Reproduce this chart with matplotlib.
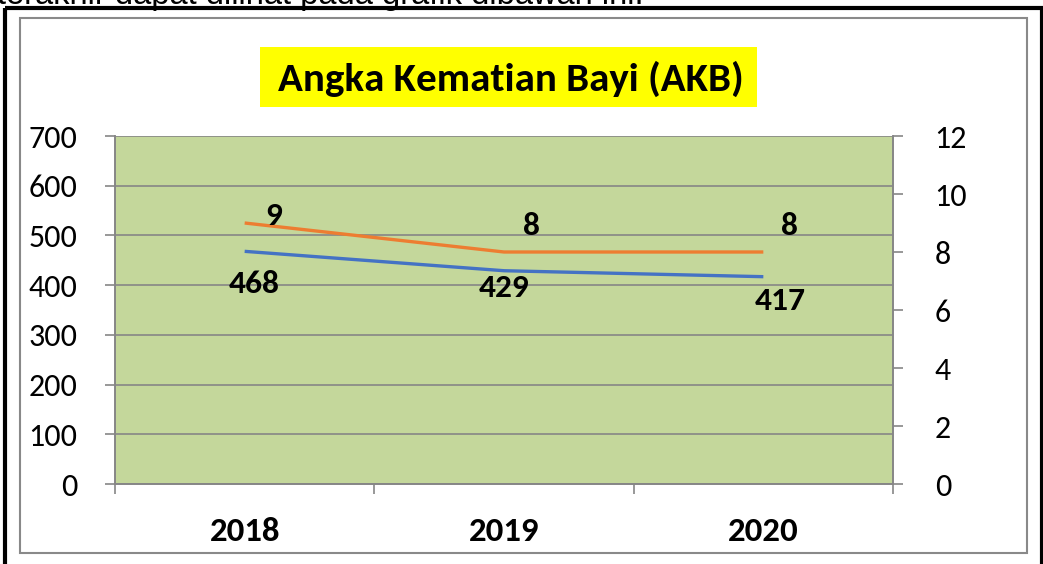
import matplotlib
matplotlib.use("Agg")
import matplotlib.pyplot as plt
from matplotlib.patches import Rectangle
from matplotlib.transforms import Affine2D

# ---- data ----
years = ["2018", "2019", "2020"]
akb_count = [468, 429, 417]     # left axis (blue)
akb_rate = [9, 8, 8]            # right axis (orange)
left_ticks = [0, 100, 200, 300, 400, 500, 600, 700]
right_ticks = [0, 2, 4, 6, 8, 10, 12]
title = "Angka Kematian Bayi (AKB)"
top_text = "terakhir dapat dilihat pada grafik dibawah ini."

W, H = 1043, 564
FONT = ["Carlito", "Lato", "DejaVu Sans"]
plt.rcParams["font.family"] = FONT

fig = plt.figure(figsize=(W / 100, H / 100), dpi=100)
fig.patch.set_facecolor("white")
px = Affine2D().scale(1 / W, -1 / H).translate(0, 1) + fig.transFigure

# plot area in pixels
L, R, T, B = 115, 893, 136, 484
ax = fig.add_axes([L / W, 1 - B / H, (R - L) / W, (B - T) / H])
ax.set_facecolor("#C4D79B")
ax2 = ax.twinx()

grid_col = "#868686"
x = [i + 0.5 for i in range(len(years))]

ax.set_xlim(0, len(years))
ax.set_ylim(0, 700)
ax2.set_ylim(0, 12)
ax.set_yticks(left_ticks)
ax2.set_yticks(right_ticks)
ax.yaxis.grid(True, color=grid_col, linewidth=1.2)
ax.set_axisbelow(True)

for a in (ax, ax2):
    for s in a.spines.values():
        s.set_color(grid_col)
        s.set_linewidth(1.2)
    a.spines["top"].set_visible(False)

ax.set_xticks(range(len(years) + 1))
ax.set_xticklabels([])
ax.set_xticks(x, minor=True)
ax.set_xticklabels(years, minor=True, fontsize=25, fontweight="bold")
ax.tick_params(axis="x", which="major", length=7, width=1.2, color=grid_col, direction="out")
ax.tick_params(axis="x", which="minor", length=0, pad=24)
ax.tick_params(axis="y", length=7, width=1.2, color=grid_col, labelsize=23, pad=20)
ax2.tick_params(axis="y", length=7, width=1.2, color=grid_col, labelsize=23, pad=23)

ax.plot(x, akb_count, color="#4472C4", linewidth=2.4, solid_capstyle="butt", zorder=3)
ax2.plot(x, akb_rate, color="#ED7D31", linewidth=2.4, solid_capstyle="butt", zorder=3)

count_offsets = [(10, -33), (0, -17), (17, -24)]
rate_offsets = [(29, 7), (27, 26), (26, 26)]
for xi, v, off in zip(x, akb_count, count_offsets):
    ax.annotate(str(v), (xi, v), xytext=off, textcoords="offset pixels",
                ha="center", va="center", fontsize=24, fontweight="bold", zorder=5)
for xi, v, off in zip(x, akb_rate, rate_offsets):
    ax2.annotate(str(v), (xi, v), xytext=off, textcoords="offset pixels",
                 ha="center", va="center", fontsize=24, fontweight="bold", zorder=5)

# title with yellow box
fig.patches.append(Rectangle((260, 47), 497, 60, transform=px, facecolor="#FFFF00",
                             edgecolor="none", zorder=1))
fig.text(511, 79, title, transform=px, ha="center", va="center",
         fontsize=29.5, fontweight="bold", zorder=2)

# borders
fig.patches.append(Rectangle((20, 18), 1007, 535, transform=px, facecolor="none",
                             edgecolor="#898989", linewidth=1.5, zorder=1))
fig.patches.append(Rectangle((5, 8), 1037, 600, transform=px, facecolor="none",
                             edgecolor="black", linewidth=3, zorder=1))

# cut-off paragraph text above the box
fig.text(-3, 4, top_text, transform=px, ha="left", va="baseline",
         fontsize=23.5, family=["Liberation Sans", "DejaVu Sans"], zorder=0)

fig.savefig("out.png", dpi=100)
